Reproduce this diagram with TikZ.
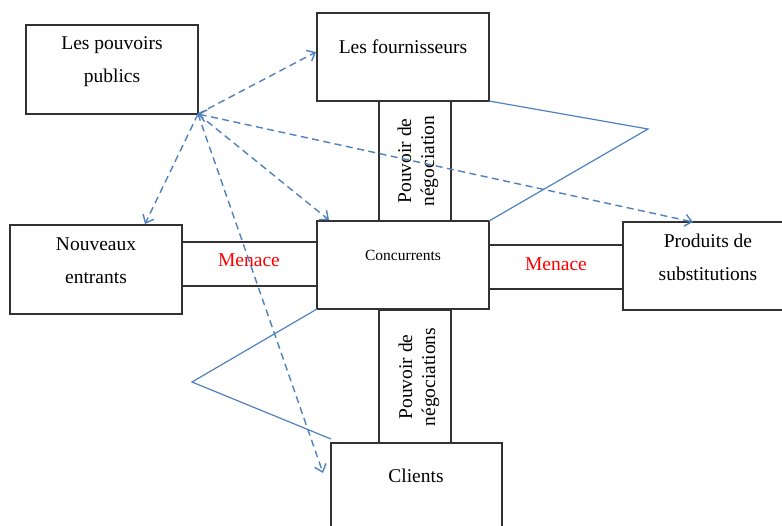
\documentclass[tikz,border=0pt]{standalone}
\usepackage{fontspec}
\setmainfont{Liberation Serif}
\usetikzlibrary{arrows.meta}
\definecolor{linkblue}{RGB}{79,129,189}
\definecolor{menacered}{RGB}{255,0,0}
\definecolor{boxgray}{RGB}{50,50,50}
\tikzset{openv/.tip={Straight Barb[length=7pt, width=12pt]}}

\begin{document}
\begin{tikzpicture}[x=1pt, y=-1pt, font=\fontsize{19.5}{33}\selectfont,
    every node/.style={outer sep=0pt, inner sep=0pt},
    box/.style={draw=boxgray, line width=1.4pt, fill=white},
    link/.style={draw=linkblue, line width=1.2pt},
    infl/.style={draw=linkblue, line width=1.4pt, dash pattern=on 7pt off 4.5pt},
    line join=miter]
    \useasboundingbox (0,0) rectangle (782,525);
    \clip (0,0) rectangle (782,525);
        \node[box, minimum width=172pt, minimum height=89pt] (publics) at (112,69.5) {};
        \node[box, minimum width=172pt, minimum height=88pt] (fourn) at (403,57) {};
        \node[box, minimum width=72pt, minimum height=120pt] (negoA) at (415,161) {};
        \node[box, minimum width=172pt, minimum height=88pt] (conc) at (403,265) {};
        \node[box, minimum width=172pt, minimum height=89pt] (entrants) at (96,269.5) {};
        \node[box, minimum width=135pt, minimum height=44pt] (menaceL) at (249.5,264) {};
        \node[box, minimum width=134pt, minimum height=44pt] (menaceR) at (556,267) {};
        \node[box, minimum width=172pt, minimum height=88pt] (produits) at (709,266) {};
        \node[box, minimum width=72pt, minimum height=133pt] (negoB) at (415,376.5) {};
        \node[box, minimum width=171pt, minimum height=100pt] (clients) at (416.5,493) {};

        \node[align=center] (publicsT) at (112,62) {Les pouvoirs\\publics};
        \node (fournT) at (403,47) {Les fournisseurs};
        \node[font=\fontsize{15.5}{18}\selectfont] (concT) at (403,255) {Concurrents};
        \node[align=center] (entrantsT) at (96,261) {Nouveaux\\entrants};
        \node[text=menacered] (menaceLT) at (249,260) {Menace};
        \node[text=menacered] (menaceRT) at (556,264) {Menace};
        \node[align=center] (produitsT) at (708,257) {Produits de\\substitutions};
        \node (clientsT) at (416,476) {Clients};
        \node[rotate=90, align=center, font=\fontsize{19.5}{23}\selectfont] (negoAT) at (418,161) {Pouvoir de\\négociation};
        \node[rotate=90, align=center, font=\fontsize{19.5}{23}\selectfont] (negoBT) at (419,377) {Pouvoir de\\négociations};

        \coordinate (pointR) at (648,129);
        \coordinate (pointL) at (192,382);
        \coordinate (endL) at (331,439);
        \draw[link] (fourn.south east) -- (pointR) -- (conc.north east);
        \draw[link] (conc.south west) -- (pointL) -- (endL);

        \coordinate (toFourn) at (316,52);
        \coordinate (toEntrants) at (145,224);
        \coordinate (toConc) at (329,220);
        \coordinate (toProduits) at (693,222);
        \coordinate (toClients) at (323,473);
        \draw[infl, -openv] (publics.south east) -- (toFourn);
        \draw[infl, -openv] (publics.south east) -- (toEntrants);
        \draw[infl, -openv] (publics.south east) -- (toConc);
        \draw[infl, openv-openv] (publics.south east) -- (toProduits);
        \draw[infl, -openv] (publics.south east) -- (toClients);
\end{tikzpicture}
\end{document}
